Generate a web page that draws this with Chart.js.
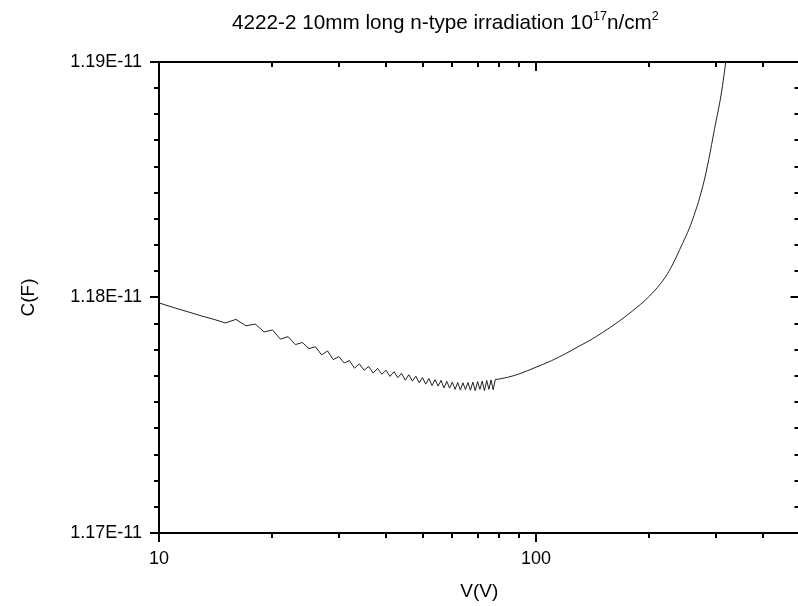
<!DOCTYPE html>
<html>
<head>
<meta charset="utf-8">
<script src="https://cdn.jsdelivr.net/npm/chart.js@4/dist/chart.umd.min.js"></script>
<style>
  html, body { margin: 0; padding: 0; background: #fff; overflow: hidden; }
  #wrap { position: relative; width: 802px; height: 606px; }
  #title {
    position: absolute; left: 232px; top: 12px;
    font: 20.7px "Liberation Sans", Arial, sans-serif; line-height: 20px;
    color: #000; white-space: nowrap;
  }
  #title sup { font-size: 12.5px; vertical-align: 0; position: relative; top: -9px; }
</style>
</head>
<body>
<div id="wrap">
  <canvas id="cv" width="802" height="606"></canvas>
  <div id="title">4222-2 10mm long n-type irradiation 10<sup>17</sup>n/cm<sup>2</sup></div>
</div>
<script>
// bias voltage (V), stepped region with the even/odd ripple
const rippleV = [
  10, 11, 12, 13, 14, 15, 16, 17, 18, 19,
  20, 21, 22, 23, 24, 25, 26, 27, 28, 29,
  30, 31, 32, 33, 34, 35, 36, 37, 38, 39,
  40, 41, 42, 43, 44, 45, 46, 47, 48, 49,
  50, 51, 52, 53, 54, 55, 56, 57, 58, 59,
  60, 61, 62, 63, 64, 65, 66, 67, 68, 69,
  70, 71, 72, 73, 74, 75, 76, 77, 78
];
// capacitance (pF)
const rippleC = [
  11.7977, 11.7956, 11.7938, 11.7921, 11.7907, 11.7892, 11.7907, 11.7880, 11.7887, 11.7854,
  11.7862, 11.7823, 11.7834, 11.7800, 11.7809, 11.7783, 11.7791, 11.7756, 11.7773, 11.7736,
  11.7749, 11.7722, 11.7732, 11.7700, 11.7718, 11.7691, 11.7707, 11.7679, 11.7699, 11.7674,
  11.7691, 11.7665, 11.7685, 11.7660, 11.7678, 11.7649, 11.7672, 11.7645, 11.7666, 11.7638,
  11.7660, 11.7632, 11.7656, 11.7626, 11.7651, 11.7624, 11.7648, 11.7616, 11.7644, 11.7615,
  11.7641, 11.7610, 11.7639, 11.7607, 11.7638, 11.7609, 11.7639, 11.7606, 11.7641, 11.7604,
  11.7643, 11.7610, 11.7645, 11.7604, 11.7648, 11.7610, 11.7650, 11.7608, 11.7652
];
// smooth rise above ~78 V
const riseV = [78, 80, 84, 90, 100, 110, 120, 130, 140, 150, 165, 180, 200, 220, 230, 240, 260, 280, 300, 310, 320];
const riseC = [
  11.7652, 11.7654, 11.7661, 11.7675, 11.7704, 11.7732, 11.7762, 11.7793, 11.7821, 11.7851,
  11.7896, 11.7942, 11.8006, 11.8085, 11.8138, 11.8200, 11.8329, 11.8503, 11.8745, 11.8864, 11.9021
];

const xMajorTicks = [10, 100];
const xMinorTicks = [20, 30, 40, 50, 60, 70, 80, 90, 200, 300, 400];
const yMajorTicks = [11.7, 11.8, 11.9];   // pF
const yMinorPerStep = 8;

const FONT = '"Liberation Sans", Arial, sans-serif';

// box + ticks, Origin style
const frame = {
  id: 'frame',
  afterDraw(chart) {
    const { ctx, chartArea: a, scales: { x, y } } = chart;
    ctx.save();
    ctx.strokeStyle = '#000';
    ctx.lineWidth = 2;
    ctx.strokeRect(a.left, a.top, a.right - a.left, a.bottom - a.top);

    ctx.beginPath();
    const xt = (v, len) => {
      const px = Math.round(x.getPixelForValue(v));
      ctx.moveTo(px, a.bottom); ctx.lineTo(px, a.bottom + len);
      ctx.moveTo(px, a.top); ctx.lineTo(px, a.top + len);
    };
    const yt = (v, len) => {
      const py = Math.round(y.getPixelForValue(v));
      ctx.moveTo(a.left - len, py); ctx.lineTo(a.left, py);
      ctx.moveTo(a.right - len, py); ctx.lineTo(a.right, py);
    };
    xMajorTicks.forEach(v => xt(v, 9));
    xMinorTicks.forEach(v => xt(v, 5));
    yMajorTicks.forEach(v => yt(v, 9));
    for (let i = 0; i < yMajorTicks.length - 1; i++) {
      const step = (yMajorTicks[i + 1] - yMajorTicks[i]) / (yMinorPerStep + 1);
      for (let k = 1; k <= yMinorPerStep; k++) yt(yMajorTicks[i] + k * step, 5);
    }
    ctx.stroke();
    ctx.restore();
  }
};

const lineStyle = { borderColor: '#222', borderWidth: 1, pointRadius: 0, fill: false };

new Chart(document.getElementById('cv'), {
  type: 'line',
  data: {
    datasets: [
      { ...lineStyle, tension: 0, data: rippleV.map((v, i) => ({ x: v, y: rippleC[i] })) },
      { ...lineStyle, cubicInterpolationMode: 'monotone', data: riseV.map((v, i) => ({ x: v, y: riseC[i] })) },
    ],
  },
  options: {
    responsive: false,
    animation: false,
    devicePixelRatio: 1,
    layout: { padding: { top: 62, right: 2.5, left: 0, bottom: 0 } },
    plugins: { legend: { display: false }, tooltip: { enabled: false } },
    scales: {
      x: {
        type: 'logarithmic',
        position: 'bottom',
        min: 10, max: 500,
        grid: { display: false, drawTicks: false },
        border: { display: false },
        afterBuildTicks: s => { s.ticks = xMajorTicks.map(v => ({ value: v })); },
        afterFit: s => { s.height = 73; },
        ticks: {
          autoSkip: false, maxRotation: 0, padding: 15, color: '#000',
          font: { family: FONT, size: 18 },
          callback: v => String(v),
        },
        title: {
          display: true, text: 'V(V)', color: '#000',
          font: { family: FONT, size: 19 },
          padding: { top: 0, bottom: 3 },
        },
      },
      y: {
        type: 'linear',
        min: 11.7, max: 11.9,
        grid: { display: false, drawTicks: false },
        border: { display: false },
        afterBuildTicks: s => { s.ticks = yMajorTicks.map(v => ({ value: v })); },
        afterFit: s => { s.width = 159; },
        ticks: {
          autoSkip: false, padding: 17, color: '#000',
          font: { family: FONT, size: 18 },
          callback: v => (v * 1e-12).toExponential(2).toUpperCase(),
        },
        title: {
          display: true, text: 'C(F)', color: '#000',
          font: { family: FONT, size: 19 },
          padding: { top: 17, bottom: 0 },
        },
      },
    },
  },
  plugins: [frame],
});
</script>
</body>
</html>
